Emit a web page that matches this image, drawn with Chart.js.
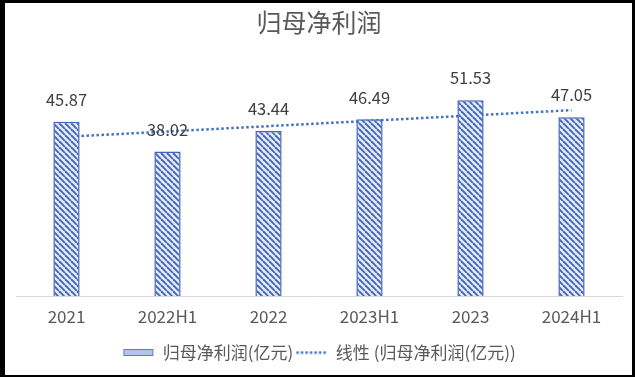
<!DOCTYPE html>
<html>
<head>
<meta charset="utf-8">
<script src="https://cdn.jsdelivr.net/npm/chart.js@4"></script>
<style>
  html, body { margin: 0; padding: 0; background: #000; }
  #wrap { position: absolute; left: 5px; top: 3px; width: 627px; height: 372px; background: #fff; }
</style>
</head>
<body>
<div id="wrap"><canvas id="profitChart"></canvas></div>
<script>
// categories and values
var periods = ['2021', '2022H1', '2022', '2023H1', '2023', '2024H1'];
var netProfit = [45.87, 38.02, 43.44, 46.49, 51.53, 47.05];
// linear trend line, ends
var trendLine = [41.9, null, null, null, null, 48.9];

var seriesName = '归母净利润(亿元)';
var trendName = '线性 (归母净利润(亿元))';
var FONT = '"Noto Sans CJK SC", "Noto Sans", sans-serif';

// hatched fill like the hand drawn bars
const makeHatch = () => {
    var c = document.createElement('canvas');
    var s = 6;
    c.width = s; c.height = s;
    var g = c.getContext('2d');
    g.fillStyle = '#e4eaf7';
    g.fillRect(0, 0, s, s);
    g.strokeStyle = '#4065bd';
    g.lineWidth = 1.9;
    [-s, 0, s].forEach(function (k) {
        g.beginPath();
        g.moveTo(k, 0);
        g.lineTo(k + s, s);
        g.stroke();
    });
    return g.createPattern(c, 'repeat');
}

var hatch = makeHatch();

// legend swatches
const barSwatch = () => {
    var c = document.createElement('canvas');
    c.width = 32; c.height = 9;
    var g = c.getContext('2d');
    g.fillStyle = '#b4c4e8';
    g.fillRect(1, 1, 30, 7);
    g.strokeStyle = '#5b7cc8';
    g.lineWidth = 1;
    g.strokeRect(1.5, 1.5, 29, 6);
    return c;
}

const dotSwatch = () => {
    var c = document.createElement('canvas');
    c.width = 32; c.height = 4;
    var g = c.getContext('2d');
    g.strokeStyle = '#4472C4';
    g.lineWidth = 2.5;
    g.setLineDash([2.5, 2]);
    g.beginPath();
    g.moveTo(1, 2);
    g.lineTo(31, 2);
    g.stroke();
    return c;
}

var barIcon = barSwatch();
var dotIcon = dotSwatch();

// value labels above the bars
var valueLabels = {
    id: 'valueLabels',
    afterDatasetsDraw(chart) {
        var g = chart.ctx;
        var meta = chart.getDatasetMeta(0);
        g.save();
        g.font = '16.5px ' + FONT;
        g.fillStyle = '#404040';
        g.textAlign = 'center';
        g.textBaseline = 'middle';
        meta.data.forEach(function (bar, i) {
            g.fillText(netProfit[i].toFixed(2), bar.x, bar.y - 22);
        });
        g.restore();
    }
};

var ctx = document.getElementById('profitChart');

var myChart = new Chart(ctx, {
    type: 'bar',
    data: {
        labels: periods,
        datasets: [{
            label: seriesName,
            data: netProfit,
            backgroundColor: hatch,
            borderColor: '#3f63b8',
            borderWidth: 1.5,
            categoryPercentage: 1,
            barPercentage: 0.26,
            order: 0
        }, {
            type: 'line',
            label: trendName,
            data: trendLine,
            spanGaps: true,
            borderColor: '#4472C4',
            borderWidth: 2.5,
            borderDash: [2.5, 2.5],
            pointRadius: 0,
            fill: false,
            order: 1
        }]
    },
    options: {
        responsive: true,
        maintainAspectRatio: false,
        animation: false,
        layout: {
            padding: { left: 11, right: 10, top: 0, bottom: 4 }
        },
        scales: {
            x: {
                grid: { display: false, drawTicks: false },
                border: { display: true, color: '#d9d9d9', width: 1 },
                ticks: {
                    color: '#595959',
                    padding: 10,
                    font: { size: 17, family: FONT }
                },
                afterFit: function (scale) { scale.height = 46; }
            },
            y: {
                display: false,
                min: 0,
                max: 60
            }
        },
        plugins: {
            title: {
                display: true,
                text: '归母净利润',
                color: '#595959',
                padding: { top: 4, bottom: 31 },
                font: { size: 25, weight: 'normal', family: FONT, lineHeight: 1.2 }
            },
            legend: {
                position: 'bottom',
                labels: {
                    color: '#595959',
                    usePointStyle: true,
                    pointStyleWidth: 32,
                    padding: 2,
                    font: { size: 17, family: FONT },
                    generateLabels: function (chart) {
                        return [
                            { text: seriesName, pointStyle: barIcon, fontColor: '#595959', datasetIndex: 0, lineWidth: 0, strokeStyle: 'transparent', fillStyle: 'transparent' },
                            { text: trendName, pointStyle: dotIcon, fontColor: '#595959', datasetIndex: 1, lineWidth: 0, strokeStyle: 'transparent', fillStyle: 'transparent' }
                        ];
                    }
                }
            },
            tooltip: { enabled: false }
        }
    },
    plugins: [valueLabels]
});
</script>
</body>
</html>
